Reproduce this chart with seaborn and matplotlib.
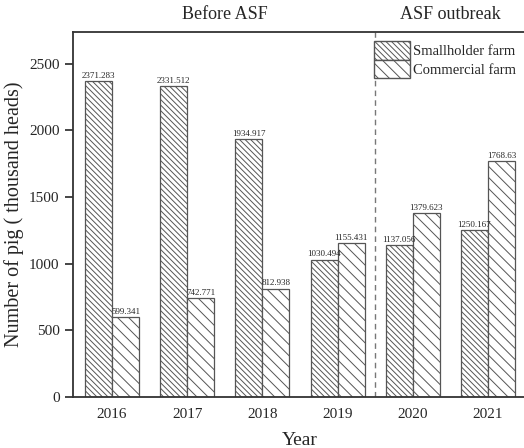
import matplotlib
matplotlib.use("Agg")
import matplotlib.pyplot as plt
import seaborn as sns
import pandas as pd
from matplotlib.patches import Patch

years = ["2016", "2017", "2018", "2019", "2020", "2021"]
smallholder = [2371.283, 2331.512, 1934.917, 1030.494, 1137.056, 1250.167]
commercial = [599.341, 742.771, 812.938, 1155.431, 1379.623, 1768.63]
smallholder_labels = ["2371.283", "2331.512", "1934.917", "1030.494", "1137.056", "1250.167"]
commercial_labels = ["599.341", "742.771", "812.938", "1155.431", "1379.623", "1768.63"]
series_names = ["Smallholder farm", "Commercial farm"]
yticks = [0, 500, 1000, 1500, 2000, 2500]

df = pd.DataFrame({
    "Year": years * 2,
    "Value": smallholder + commercial,
    "Type": [series_names[0]] * len(years) + [series_names[1]] * len(years),
})

sns.set_style("ticks")
plt.rcParams["font.family"] = ["Liberation Serif", "DejaVu Serif"]
plt.rcParams["hatch.color"] = "#6a6a6a"
plt.rcParams["hatch.linewidth"] = 0.7

fig = plt.figure(figsize=(5.24, 4.48), dpi=100)
ax = fig.add_axes([0.139, 0.114, 0.867, 0.815])

sns.barplot(data=df, x="Year", y="Value", hue="Type", order=years,
            hue_order=series_names, width=0.72, palette=["white", "white"],
            edgecolor="#555555", linewidth=0.9, legend=False, ax=ax)

hatches = ["\\\\\\\\\\\\", "\\\\\\"]
for cont, h, labs in zip(ax.containers, hatches, [smallholder_labels, commercial_labels]):
    for bar in cont:
        bar.set_hatch(h)
        bar.set_edgecolor("#555555")
    ax.bar_label(cont, labels=labs, fontsize=6.5, padding=1)

ax.axvline(3.5, color="#777777", linestyle=(0, (4, 3)), linewidth=1)

ax.set_ylim(0, 2740)
ax.set_xlim(-0.52, 5.52)
ax.set_yticks(yticks)
ax.set_yticklabels([str(t) for t in yticks], fontsize=11)
ax.tick_params(axis="x", length=0, labelsize=11, pad=8)
ax.tick_params(axis="y", direction="out", length=6, width=1.2)
for s in ["left", "bottom", "top"]:
    ax.spines[s].set_visible(True)
    ax.spines[s].set_linewidth(1.3)
    ax.spines[s].set_color("#333333")
ax.spines["right"].set_visible(False)

ax.set_xlabel("Year", fontsize=14, labelpad=8)
ax.set_ylabel("Number of pig ( thousand heads)", fontsize=14.5)

handles = [Patch(facecolor="white", edgecolor="#555555", hatch=h) for h in hatches]
ax.legend(handles, series_names, loc="upper left", bbox_to_anchor=(0.662, 0.975),
          frameon=False, fontsize=10.5, handlelength=2.5, handleheight=1.6,
          handletextpad=0.2, labelspacing=0.0, borderaxespad=0, borderpad=0)

ax.text(1.5, 1.025, "Before ASF", transform=ax.get_xaxis_transform(),
        ha="center", va="bottom", fontsize=13)
ax.text(4.5, 1.025, "ASF outbreak", transform=ax.get_xaxis_transform(),
        ha="center", va="bottom", fontsize=13)

fig.savefig("out.png", dpi=100)
